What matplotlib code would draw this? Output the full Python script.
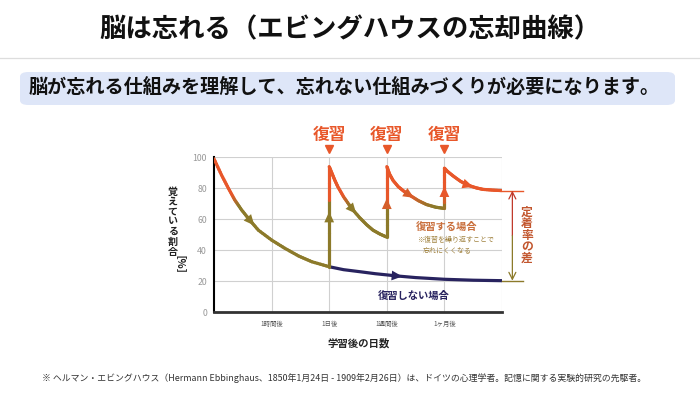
import numpy as np
import matplotlib
matplotlib.use("Agg")
import matplotlib.pyplot as plt
from matplotlib.collections import LineCollection
from matplotlib.colors import to_rgb
from matplotlib.patches import FancyBboxPatch

plt.rcParams['font.family'] = ['Noto Sans CJK JP', 'DejaVu Sans']

TITLE = "脳は忘れる（エビングハウスの忘却曲線）"
SUBTITLE = "脳が忘れる仕組みを理解して、忘れない仕組みづくりが必要になります。"
NOTE = ("※ ヘルマン・エビングハウス（Hermann Ebbinghaus、1850年1月24日 - 1909年2月26日）は、"
        "ドイツの心理学者。記憶に関する実験的研究の先駆者。")

y_ticks = [0, 20, 40, 60, 80, 100]
x_ticks = [1, 2, 3, 4, 5]
x_tick_labels = ["1時間後", "1日後", "1週間後", "1ヶ月後", ""]

# forgetting after first learning
learn_x = [0, 0.13, 0.25, 0.36, 0.48, 0.62, 0.77, 1.0, 1.23, 1.47, 1.70, 2.0]
learn_y = [99, 88.6, 80, 72.5, 66, 59.5, 53, 46.6, 41.3, 36.3, 32.6, 29.4]

# forgetting after each review
rev1_x = [2.0, 2.05, 2.1, 2.15, 2.25, 2.39, 2.53, 2.65, 2.76, 2.88, 3.0]
rev1_y = [94, 89.5, 85, 81, 74.5, 67, 61, 56.5, 53, 50.5, 48.5]
rev2_x = [3.0, 3.05, 3.11, 3.2, 3.3, 3.4, 3.55, 3.69, 3.85, 4.0]
rev2_y = [94, 89, 85, 81, 78, 75.5, 72, 69.5, 67.8, 67]
rev3_x = [4.0, 4.05, 4.15, 4.28, 4.41, 4.55, 4.67, 4.85, 5.0]
rev3_y = [93, 91, 88, 84.5, 82, 80.3, 79.3, 78.8, 78.5]

# review jumps
review_x = [2, 3, 4]
review_from = [29.4, 48.5, 67]
review_to = [94, 94, 93]

# no review
norev_x = [2.0, 2.25, 2.53, 2.8, 3.19, 3.5, 4.0, 4.5, 5.0]
norev_y = [29.4, 27.5, 26.2, 24.9, 23.4, 22.4, 21.3, 20.7, 20.4]

ORANGE = '#E8572A'
OLIVE = '#8C7A2A'
NAVY = '#28235F'
GRID = '#D0D0D0'

W, H = 700, 393


def fx(px):
    return px / W


def fy(py):
    return 1 - py / H


def review_color(y):
    t = np.clip((y - 68) / (75 - 68), 0, 1)
    return tuple(np.array(to_rgb(OLIVE)) * (1 - t) + np.array(to_rgb(ORANGE)) * t)


def gradient_line(ax, xs, ys, lw=2.3):
    segs, cols = [], []
    for i in range(len(xs) - 1):
        # split each straight piece so the colour can fade along it
        for a, b in zip(np.linspace(0, 1, 7)[:-1], np.linspace(0, 1, 7)[1:]):
            x0 = xs[i] + (xs[i + 1] - xs[i]) * a
            x1 = xs[i] + (xs[i + 1] - xs[i]) * b
            y0 = ys[i] + (ys[i + 1] - ys[i]) * a
            y1 = ys[i] + (ys[i + 1] - ys[i]) * b
            segs.append([(x0, y0), (x1, y1)])
            cols.append(review_color((y0 + y1) / 2))
    lc = LineCollection(segs, colors=cols, linewidths=lw, capstyle='round', zorder=4)
    ax.add_collection(lc)


def head(ax, x0, y0, x1, y1, color):
    ax.annotate('', xy=(x1, y1), xytext=(x0, y0),
                arrowprops=dict(arrowstyle='-|>,head_length=0.7,head_width=0.32',
                                color=color, lw=0, mutation_scale=11,
                                shrinkA=0, shrinkB=0), zorder=5)


def head_on(ax, xs, ys, x, color=None):
    y1 = np.interp(x, xs, ys)
    y0 = np.interp(x - 0.04, xs, ys)
    head(ax, x - 0.04, y0, x, y1, color or review_color(y1))


fig = plt.figure(figsize=(7, 3.93), dpi=100)

# header
fig.text(0.5, fy(30), TITLE, ha='center', va='center', fontsize=19, fontweight='bold', color='#111111')
fig.add_artist(plt.Line2D([0, 1], [fy(58), fy(58)], color='#DDDDDD', lw=0.9))
box = FancyBboxPatch((fx(20), fy(105)), fx(655), (105 - 72) / H,
                     boxstyle='round,pad=0,rounding_size=0.012', transform=fig.transFigure,
                     facecolor='#DEE6F8', edgecolor='none')
fig.add_artist(box)
fig.text(fx(344), fy(88.5), SUBTITLE, ha='center', va='center', fontsize=13.8, fontweight='bold',
         color='#111111')
fig.text(fx(42), fy(378), NOTE, ha='left', va='center', fontsize=6.4, color='#333333')

ax = fig.add_axes([fx(214), fy(312.3), fx(288), 155 / H])
ax.set_xlim(0, 5)
ax.set_ylim(0, 100)
ax.set_yticks(y_ticks)
ax.set_xticks(x_ticks)
ax.set_xticklabels(x_tick_labels)
ax.tick_params(axis='y', length=0, pad=5, labelsize=6.3, labelcolor='#999999')
ax.tick_params(axis='x', length=0, pad=5.5, labelsize=4.6, labelcolor='#555555')
ax.grid(True, color=GRID, lw=0.8)
ax.set_axisbelow(True)
for s in ['top', 'right']:
    ax.spines[s].set_visible(False)
ax.spines['left'].set_linewidth(1.5)
ax.spines['bottom'].set_linewidth(2.0)
ax.spines['bottom'].set_color('#333333')

# review curve
gradient_line(ax, learn_x, learn_y)
gradient_line(ax, rev1_x, rev1_y)
gradient_line(ax, rev2_x, rev2_y)
gradient_line(ax, rev3_x, rev3_y)
for x, a, b in zip(review_x, review_from, review_to):
    gradient_line(ax, [x, x], [a, b])
    tip = a + (b - a) * 0.55
    head(ax, x, tip - 3, x, tip, review_color(tip))

# no review curve
ax.plot(norev_x, norev_y, color=NAVY, lw=2.3, solid_capstyle='round', zorder=3)

head_on(ax, learn_x, learn_y, 0.7)
head_on(ax, rev1_x, rev1_y, 2.47)
head_on(ax, rev2_x, rev2_y, 3.47)
head_on(ax, rev3_x, rev3_y, 4.5)
head_on(ax, norev_x, norev_y, 3.27, NAVY)

# extension lines and the gap arrow
ax.plot([rev3_x[-1], 5.36], [rev3_y[-1]] * 2, color=ORANGE, lw=1.0, clip_on=False, zorder=3)
ax.plot([norev_x[-1], 5.36], [norev_y[-1]] * 2, color=OLIVE, lw=1.0, clip_on=False, zorder=3)
mid = (rev3_y[-1] + norev_y[-1]) / 2
ax.annotate('', xy=(5.18, rev3_y[-1]), xytext=(5.18, mid), annotation_clip=False,
            arrowprops=dict(arrowstyle='->,head_length=0.5,head_width=0.25', color='#C0392B',
                            lw=0.9, shrinkA=0, shrinkB=0, mutation_scale=10))
ax.annotate('', xy=(5.18, norev_y[-1]), xytext=(5.18, mid), annotation_clip=False,
            arrowprops=dict(arrowstyle='->,head_length=0.5,head_width=0.25', color=OLIVE,
                            lw=0.9, shrinkA=0, shrinkB=0, mutation_scale=10))

# review markers
for x in review_x:
    ax.text(x, 114.4, "復習", ha='center', va='center', fontsize=12, fontweight='bold',
            color=ORANGE, clip_on=False)
ax.plot(review_x, [105.4] * len(review_x), 'v', color=ORANGE, ms=6, clip_on=False)

# labels inside plot
ax.text(3.5, 55, "復習する場合", ha='left', va='center', fontsize=7.4, fontweight='bold', color='#C96F3C')
ax.text(3.53, 46.6, "※復習を繰り返すことで", ha='left', va='center', fontsize=5, color='#A0823F')
ax.text(3.63, 40, "忘れにくくなる", ha='left', va='center', fontsize=5, color='#A0823F')
ax.text(2.84, 10.7, "復習しない場合", ha='left', va='center', fontsize=7.4, fontweight='bold', color=NAVY)

# vertical labels
for i, ch in enumerate("定着率の差"):
    fig.text(fx(527), fy(212 + i * 11.6), ch, ha='center', va='center', fontsize=8.5,
             fontweight='bold', color='#C2562E')
for i, ch in enumerate("覚えている割合"):
    fig.text(fx(172.7), fy(191.5 + i * 10), ch, ha='center', va='center', fontsize=7.2,
             fontweight='bold', color='#222222')
fig.text(fx(172.7), fy(271), "［%］", ha='center', va='center', fontsize=7.6, fontweight='bold',
         color='#222222', rotation=-90)

fig.text(fx(359), fy(343), "学習後の日数", ha='center', va='center', fontsize=7.5,
         fontweight='bold', color='#222222')

fig.savefig("out.png", dpi=100)
